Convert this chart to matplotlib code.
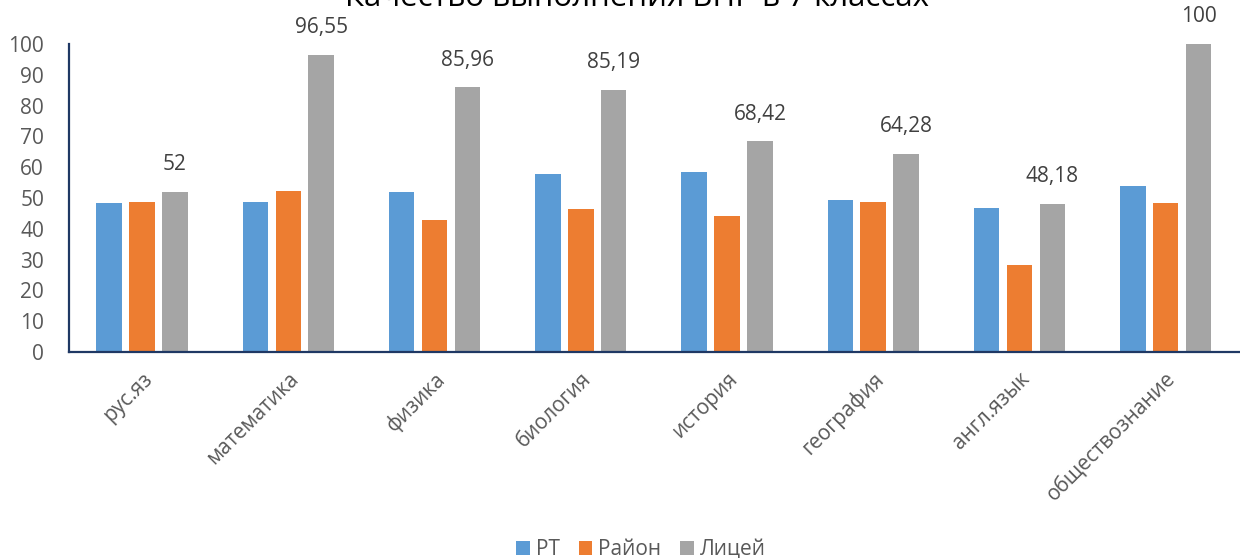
import numpy as np
import matplotlib.pyplot as plt

plt.rcParams['font.family'] = ['Open Sans', 'DejaVu Sans']

# data
subjects = ['рус.яз', 'математика', 'физика', 'биология', 'история',
            'география', 'англ.язык', 'обществознание']
rt = [48.5, 48.8, 52.1, 57.7, 58.5, 49.2, 46.9, 53.8]
rayon = [48.6, 52.2, 43.0, 46.3, 44.3, 48.6, 28.4, 48.5]
licey = [52, 96.55, 85.96, 85.19, 68.42, 64.28, 48.18, 100]
licey_labels = ['52', '96,55', '85,96', '85,19', '68,42', '64,28', '48,18', '100']

fig = plt.figure(figsize=(12.4, 5.58), dpi=100)
ax = fig.add_axes([69/1240, 1-352/558, 1-69/1240-0.001, (352-44)/558])

x = np.arange(len(subjects))
step = 0.225
w = 0.175
ax.bar(x - step, rt, w, color='#5B9BD5', label='РТ')
ax.bar(x, rayon, w, color='#ED7D31', label='Район')
bars = ax.bar(x + step, licey, w, color='#A5A5A5', label='Лицей')

for b, t in zip(bars, licey_labels):
    ax.annotate(t, (b.get_x() + b.get_width()/2, b.get_height()),
                xytext=(0, 12), textcoords='offset points',
                ha='center', va='bottom', fontsize=15, color='#404040')

ax.set_xlim(-0.5, len(subjects) - 0.5)
ax.set_ylim(0, 100)
ax.set_yticks(range(0, 101, 10))
ax.set_xticks(x)
ax.set_xticklabels(subjects, rotation=45, ha='right', rotation_mode='anchor')
ax.tick_params(axis='both', length=0, labelsize=15, colors='#595959')
ax.tick_params(axis='y', pad=18)
ax.tick_params(axis='x', pad=12)

for s in ['top', 'right']:
    ax.spines[s].set_visible(False)
for s in ['left', 'bottom']:
    ax.spines[s].set_color('#1F3864')
    ax.spines[s].set_linewidth(1.6)

fig.text(0.514, 1 - 6/558, 'Качество выполнения ВПР в 7 классах',
         ha='center', va='baseline', fontsize=22.5, color='#000000')

fig.legend(loc='lower center', bbox_to_anchor=(0.517, -0.037), ncol=3,
           frameon=False, fontsize=15, handlelength=0.65, handleheight=0.65,
           handletextpad=0.3, columnspacing=0.9, labelcolor='#595959')

fig.savefig('out.png', dpi=100)
